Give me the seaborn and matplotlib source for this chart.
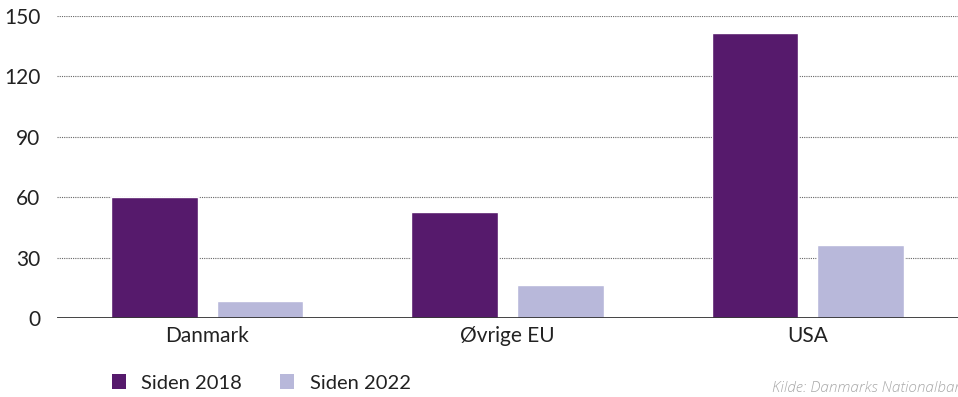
import matplotlib
matplotlib.use("Agg")
import matplotlib.pyplot as plt
import seaborn as sns
import pandas as pd
from matplotlib.patches import Patch

regions = ["Danmark", "Øvrige EU", "USA"]
series = ["Siden 2018", "Siden 2022"]
since_2018 = [60.0, 52.7, 141.6]
since_2022 = [8.4, 16.4, 36.3]
y_ticks = [0, 30, 60, 90, 120, 150]
source = "Kilde: Danmarks Nationalbank"

colors = ["#561A6C", "#B8B8DA"]

df = pd.DataFrame({
    "region": regions * 2,
    "serie": [series[0]] * 3 + [series[1]] * 3,
    "value": since_2018 + since_2022,
})

sns.set_theme(style="white")
plt.rcParams["font.family"] = ["Lato", "DejaVu Sans"]

fig = plt.figure(figsize=(9.58, 3.97), dpi=100)
ax = fig.add_axes([57 / 958, 1 - 318 / 397, 1 - 57 / 958, (318 - 16) / 397])

sns.barplot(data=df, x="region", y="value", hue="serie", order=regions,
            hue_order=series, palette=colors, width=0.704, gap=0.18,
            saturation=1, ax=ax, legend=False)

ax.set_xlim(-0.5, 2.5)
ax.set_ylim(0, 150)
ax.set_yticks(y_ticks)
ax.set_xlabel("")
ax.set_ylabel("")
for s in ax.spines.values():
    s.set_visible(False)
ax.yaxis.grid(True, linestyle=(0, (1, 1)), color="#666666", linewidth=0.8)
ax.set_axisbelow(True)
ax.axhline(0, color="#333333", linewidth=2, zorder=5)
ax.tick_params(axis="both", length=0, labelsize=15, colors="#222222")
ax.tick_params(axis="y", pad=12)
ax.tick_params(axis="x", pad=6)

handles = [Patch(facecolor=c, edgecolor="none") for c in colors]
fig.legend(handles, series, loc="center left", bbox_to_anchor=(112 / 958, 1 - 383 / 397),
           ncol=2, frameon=False, fontsize=14.5, handlelength=0.7, handleheight=0.7,
           handletextpad=0.75, columnspacing=1.9, borderpad=0, borderaxespad=0,
           labelcolor="#222222")

# source line runs off the right edge of the figure
fig.text(772 / 958, 1 - 388 / 397, source, fontsize=11, style="italic",
         fontweight="light", family=["Open Sans", "DejaVu Sans"],
         color="#A8A8A8", ha="left", va="center")

fig.savefig("out.png", dpi=100)
